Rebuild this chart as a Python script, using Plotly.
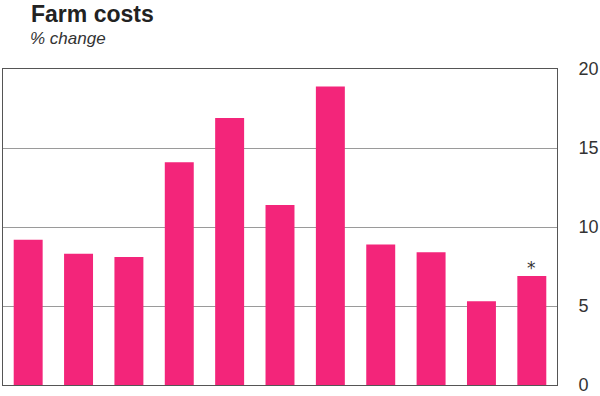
import plotly.graph_objects as go

categories = ["A", "B", "C", "D", "E", "F", "G", "H", "I", "J", "K"]
values = [9.2, 8.3, 8.1, 14.1, 16.9, 11.4, 18.9, 8.9, 8.4, 5.3, 6.9]
y_ticks = [0, 5, 10, 15, 20]
title_text = "Farm costs"
subtitle_text = "% change"
note_text = "*"

BAR = "#F3257A"
W, H = 600, 396
L, R, T, B = 3, 43, 69, 11
PW, PH = W - L - R, H - T - B


def px(x):
    return (x - L) / PW


def py(y):
    return (H - B - y) / PH


fig = go.Figure()
fig.add_trace(go.Bar(
    x=categories, y=values,
    marker=dict(color=BAR, line=dict(width=0)),
    hoverinfo="skip",
))

fig.add_annotation(
    x=categories[-1], y=values[-1], xref="x", yref="y",
    text=note_text, showarrow=False, yanchor="bottom", yshift=-4,
    font=dict(family="DejaVu Sans, Liberation Sans, Arial", size=17, color="#333"),
)

fig.add_annotation(
    x=px(29), y=py(-1), xref="paper", yref="paper",
    xanchor="left", yanchor="top", showarrow=False,
    text="<b>" + title_text + "</b>",
    font=dict(family="Liberation Sans, Arial", size=23, color="#222"),
)
fig.add_annotation(
    x=px(28), y=py(27), xref="paper", yref="paper",
    xanchor="left", yanchor="top", showarrow=False,
    text="<i>" + subtitle_text + "</i>",
    font=dict(family="Liberation Sans, Arial", size=17, color="#333"),
)

fig.update_layout(
    width=W, height=H,
    margin=dict(l=L, r=R, t=T, b=B, pad=0),
    paper_bgcolor="white", plot_bgcolor="white",
    showlegend=False,
    bargap=0.425,
    xaxis=dict(
        type="category", automargin=False,
        showticklabels=False, ticks="", showgrid=False,
        showline=True, linecolor="#555", linewidth=1, mirror=True,
        zeroline=False,
    ),
    yaxis=dict(
        side="right", range=[0, 20], tickvals=y_ticks, automargin=False,
        showgrid=True, gridcolor="#9a9a9a", gridwidth=1,
        showline=True, linecolor="#555", linewidth=1, mirror=True,
        zeroline=False, ticks="", ticklabelstandoff=17,
        tickfont=dict(family="Liberation Sans, Arial", size=18, color="#333"),
    ),
)

fig.write_html(
    "out.html",
    config={"displayModeBar": False},
    post_script="document.body.style.margin='0';document.body.style.overflow='hidden';",
)
